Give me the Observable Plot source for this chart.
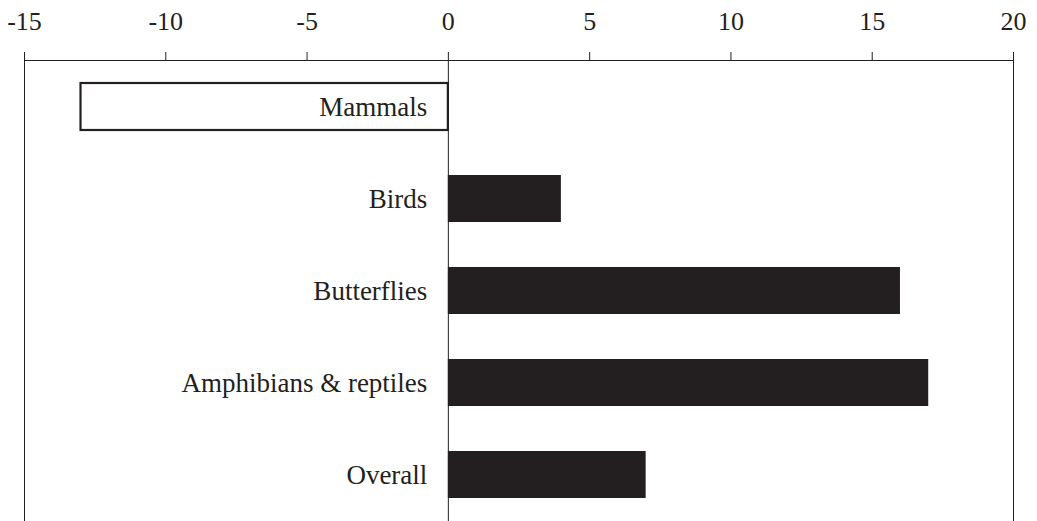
<!DOCTYPE html>
<html>
<head>
<meta charset="utf-8">
<script src="https://cdn.jsdelivr.net/npm/d3@7"></script>
<script src="https://cdn.jsdelivr.net/npm/@observablehq/plot@0.6"></script>
<style>
  html, body { margin: 0; padding: 0; background: #fff; }
  svg { display: block; }
</style>
</head>
<body>
<div id="chart"></div>
<script>
const categories = ["Mammals", "Birds", "Butterflies", "Amphibians & reptiles", "Overall"];
const values = [-13, 4, 16, 17, 7];
const xTicks = [-15, -10, -5, 0, 5, 10, 15, 20];

const data = categories.map((c, i) => ({category: c, value: values[i]}));
const ink = "#231f20";
const serif = "'Liberation Serif', 'Times New Roman', Times, serif";

const chart = Plot.plot({
  width: 1037,
  height: 521,
  marginTop: 60,
  marginBottom: 0,
  marginLeft: 24,
  marginRight: 24,
  style: {fontFamily: serif, fontSize: "26px", color: ink, background: "#fff"},
  x: {domain: [-15, 20], ticks: xTicks},
  y: {domain: categories, paddingInner: 0.49, paddingOuter: 0.24, axis: null},
  marks: [
    Plot.ruleX([-15, 0, 20], {stroke: ink, strokeWidth: 1}),
    Plot.frame({anchor: "top", stroke: ink, strokeWidth: 1}),
    Plot.axisX({anchor: "top", ticks: xTicks, tickSize: 9, tickPadding: 22, tickFormat: d => String(d), stroke: ink, fill: ink, fontSize: 26, fontFamily: serif, label: null}),
    Plot.barX(data, {
      x1: 0, x2: "value", y: "category",
      fill: d => d.value < 0 ? "#ffffff" : ink,
      stroke: d => d.value < 0 ? ink : "none",
      strokeWidth: 2.2
    }),
    Plot.text(data, {x: 0, y: "category", text: "category", textAnchor: "end", dx: -21, fill: ink, fontSize: 27, fontFamily: serif})
  ]
});
document.getElementById("chart").appendChild(chart);
</script>
</body>
</html>
